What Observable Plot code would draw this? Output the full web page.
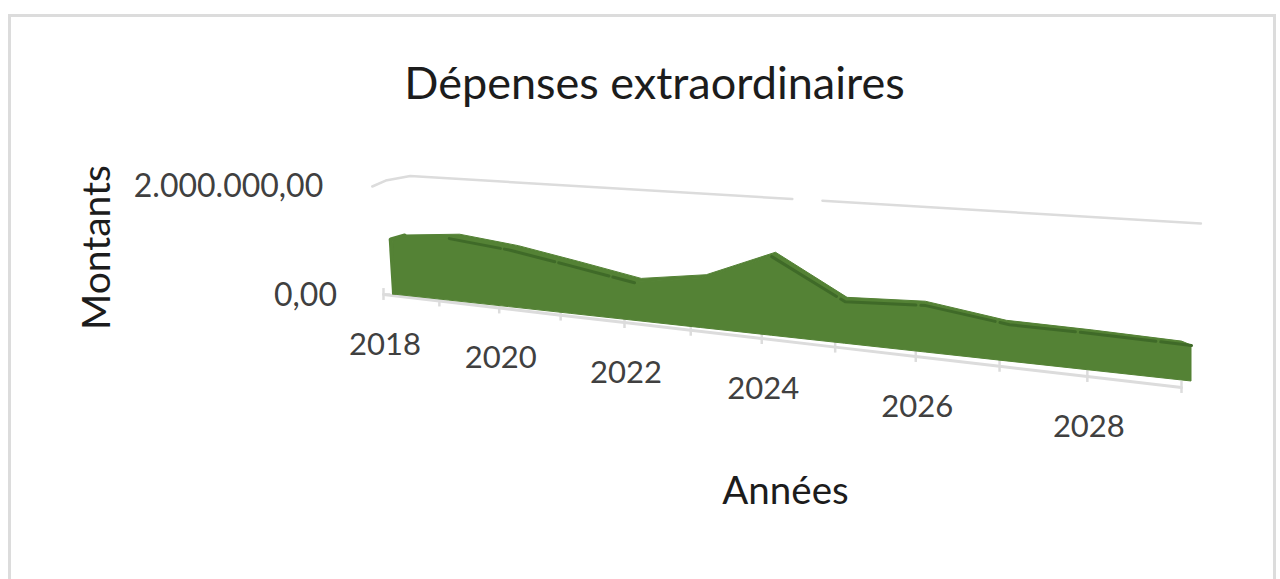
<!DOCTYPE html>
<html><head><meta charset="utf-8">
<script src="https://cdn.jsdelivr.net/npm/d3@7"></script>
<script src="https://cdn.jsdelivr.net/npm/@observablehq/plot@0.6"></script>
<style>
html,body{margin:0;padding:0;background:#fff;overflow:hidden;width:1280px;height:579px}
#frame{position:absolute;left:8px;top:14px;width:1262px;height:640px;border:3px solid #dcdcdc;box-sizing:content-box}
#chart{position:absolute;left:0;top:0}
svg{display:block}
</style></head><body>
<div id="frame"></div><div id="chart"></div>
<script>
const years = [2018,2019,2020,2021,2022,2023,2024,2025,2026,2027,2028,2029];
const amounts = [1020000,1170000,1100000,945000,766000,1010000,1680000,918000,1060000,865000,900000,913000];
const labelYears = [2018,2020,2022,2024,2026,2028];
const depth = [0,.07,.145,.222,.302,.385,.474,.566,.667,.772,.882,1];
const gridYears = [2017.62,2017.86,2018.3,2024.28];
const gridLevels = [2000000,2110000,2194000,1768000];
const gridYears2 = [2024.69,2029.1];
const gridLevels2 = [1735000,1315000];

const floorDrop = 1611000, axisDrop = 1722000;
const rows = years.map((year,i)=>{
  const d = depth[i], floor = -floorDrop*d;
  const top = floor + amounts[i]*(1-0.27*d);
  return {year,d,floor,top,axis:-axisDrop*d,back:year+0.2-0.3*d,backTop:top+72000};
});
const dark1 = rows.filter(r=>r.year>=2019&&r.year<=2022);
const dark2 = rows.filter(r=>r.year>=2024);
const labels = rows.filter(r=>labelYears.includes(r.year));
const green="#548235", dark="#3f6a28", grey="#dcdcdc", ink="#404040", black="#1c1c1c";
const fam="Lato, Carlito, sans-serif";
const note = (text,dx,dy,fontSize,fill,extra={}) => Plot.text([text],{frameAnchor:"top-left",dx,dy,textAnchor:"middle",lineAnchor:"middle",fontSize,fill,fontFamily:fam,...extra});

const svg = Plot.plot({
  width:1280,height:579,margin:0,
  style:{background:"transparent",fontFamily:fam},
  x:{axis:null,domain:years,range:depth.map(d=>393+798*d),type:"linear"},
  y:{axis:null,domain:[0,2000000],range:[294,186]},
  marks:[
    Plot.line(gridYears.map((x,i)=>({x,y:gridLevels[i]})),{x:"x",y:"y",stroke:grey,strokeWidth:2.5,curve:"linear"}),
    Plot.line(gridYears2.map((x,i)=>({x,y:gridLevels2[i]})),{x:"x",y:"y",stroke:grey,strokeWidth:2.5}),
    // floor axis + ticks
    Plot.line(rows,{x:"year",y:"axis",dx:-10,stroke:grey,strokeWidth:3}),
    Plot.ruleX(rows,{x:"year",y1:r=>r.axis-110000,y2:r=>r.axis+110000,dx:-10,stroke:grey,strokeWidth:2.5}),
    Plot.ruleY([0],{x1:2017.82,x2:2017.95,stroke:grey,strokeWidth:2.5}),
    // top surface
    Plot.area(rows,{x1:"year",y1:"top",x2:"back",y2:"backTop",fill:green,stroke:green,strokeWidth:1}),
    // front face
    Plot.areaY(rows,{x:"year",y1:"floor",y2:"top",fill:green,stroke:green,strokeWidth:1}),
    // left side edges of the solid
    Plot.link(rows.slice(0,1),{x1:2017.95,y1:"top",x2:2018.01,y2:"floor",stroke:green,strokeWidth:4}),
    Plot.link(rows.slice(0,1),{x1:2017.95,y1:"top",x2:"back",y2:"backTop",stroke:green,strokeWidth:4,strokeLinecap:"round"}),
    // front top edge
    Plot.line(dark1,{x:"year",y:"top",stroke:dark,strokeWidth:3,strokeDasharray:"52 4"}),
    Plot.line(dark2,{x:"year",y:"top",stroke:dark,strokeWidth:3,strokeDasharray:"76 5"}),
    // labels
    Plot.text(labels,{x:"year",y:"axis",text:r=>String(r.year),dx:-8.5,dy:50.5,fontSize:31,fill:ink,fontFamily:fam}),
    note("0,00",305,295,32,ink),
    note("2.000.000,00",228,186,32,ink),
    note("Dépenses extraordinaires",654,84,45,black),
    note("Années",785,491,38.5,black),
    note("Montants",97,247,39,black,{rotate:-90})
  ]
});
document.getElementById("chart").append(svg);
</script></body></html>
